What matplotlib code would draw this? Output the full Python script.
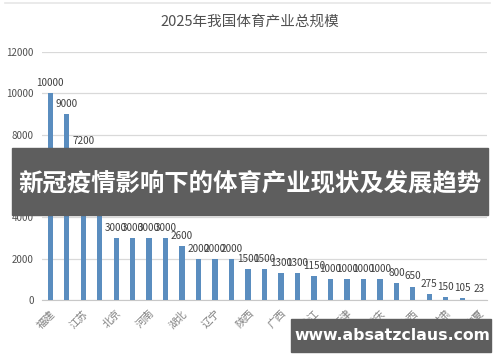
import matplotlib
matplotlib.use("Agg")
import matplotlib.pyplot as plt
from matplotlib.patches import Rectangle

plt.rcParams['font.family'] = ['Noto Sans CJK SC', 'DejaVu Sans']

title = "2025年我国体育产业总规模"
values = [10000, 9000, 7200, 5000, 3000, 3000, 3000, 3000, 2600, 2000, 2000, 2000,
          1500, 1500, 1300, 1300, 1150, 1000, 1000, 1000, 1000, 800, 650, 275, 150, 105, 23]
tick_labels = ["福建", "江苏", "北京", "河南", "湖北", "辽宁", "陕西", "广西",
               "黑龙江", "天津", "重庆", "山西", "甘肃", "宁夏"]
yticks = [0, 2000, 4000, 6000, 8000, 10000, 12000]
banner_text = "新冠疫情影响下的体育产业现状及发展趋势"
watermark = "www.absatzclaus.com"

fig = plt.figure(figsize=(5, 3.62), dpi=100)
ax = fig.add_axes([42/500, 1-300/362, (487-42)/500, (300-52)/362])

x = list(range(len(values)))
ax.bar(x, values, width=0.32, color="#5a8dbf", zorder=3)
for xi, v in zip(x, values):
    ax.text(xi, v + 250, f"{v}", ha="center", va="bottom", fontsize=7.2,
            color="#404040", zorder=4)

ax.set_xlim(-0.5, len(values) - 0.5)
ax.set_ylim(0, 12000)
ax.set_yticks(yticks)
ax.set_yticklabels([str(t) for t in yticks], fontsize=7, color="#505050")
ax.set_xticks(x[::2])
ax.set_xticklabels(tick_labels, rotation=45, ha="right", rotation_mode="anchor",
                   fontsize=7.5, color="#808080")
ax.tick_params(axis="both", length=0, pad=6)
ax.grid(axis="y", color="#d9d9d9", linewidth=0.9, zorder=0)
for s in ["top", "right", "left"]:
    ax.spines[s].set_visible(False)
ax.spines["bottom"].set_color("#c8c8c8")

fig.text(0.5, 1-22/362, title, ha="center", va="center", fontsize=10.5, color="#505050")

# top frame line
fig.add_artist(plt.Line2D([5/500, 490/500], [1-3/362, 1-3/362], color="#e6e6e6",
                          linewidth=1.2))

# banner
fig.add_artist(Rectangle((12/500, 1-215/362), (488-12)/500, (215-148)/362,
                         color="#5e5e5e", zorder=10))
fig.text(250/500, 1-183/362, banner_text, ha="center", va="center", fontsize=17.6,
         color="white", fontweight="bold", zorder=11)

# watermark
fig.add_artist(Rectangle((291/500, 1-352/362), (491-291)/500, (352-319)/362,
                         color="#5e5e5e", zorder=10))
fig.text(392/500, 1-336/362, watermark, ha="center", va="center", fontsize=11.3,
         color="white", fontweight="bold", zorder=11, family=["DejaVu Sans"])

fig.savefig("out.png", dpi=100)
